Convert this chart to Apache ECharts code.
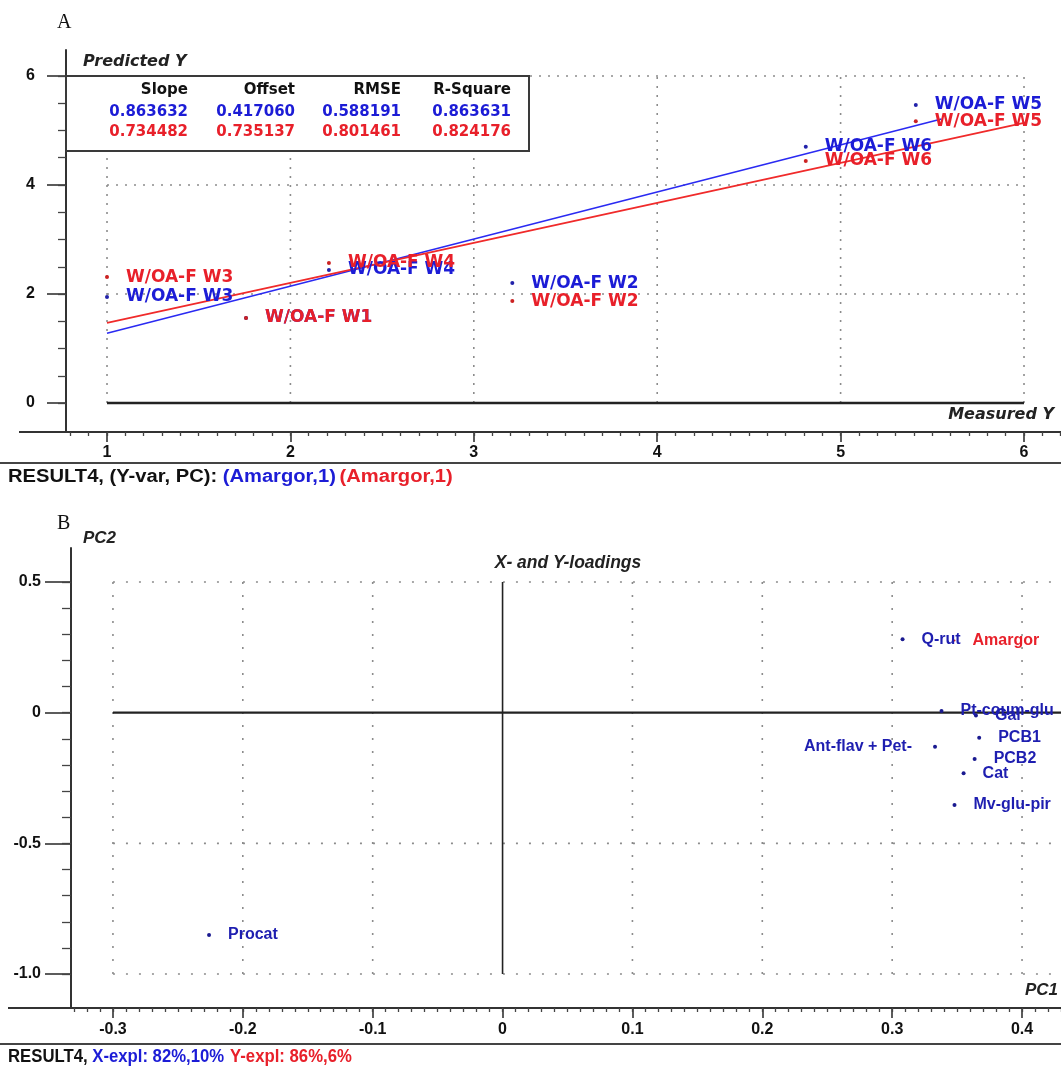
<!DOCTYPE html>
<html><head><meta charset="utf-8">
<script src="https://cdn.jsdelivr.net/npm/echarts@6/dist/echarts.min.js"></script>
<style>html,body{margin:0;padding:0;background:#fff}#c{width:1061px;height:1068px}</style>
</head><body><div id="c"></div><script>
// ---------- Panel A data ----------
const samplesA = ['W/OA-F W3','W/OA-F W1','W/OA-F W4','W/OA-F W2','W/OA-F W6','W/OA-F W5'];
const measuredA = [1.0, 1.758, 2.21, 3.21, 4.81, 5.41];
const predictedBlueA = [1.945, 1.56, 2.44, 2.20, 4.70, 5.47];
const predictedRedA = [2.31, 1.56, 2.57, 1.87, 4.44, 5.17];
const regLineBlueA = [[1, 1.28], [5.55, 5.21]];
const regLineRedA = [[1, 1.47], [6, 5.14]];
const statHeaders = ['Slope','Offset','RMSE','R-Square'];
const statsBlue = ['0.863632','0.417060','0.588191','0.863631'];
const statsRed = ['0.734482','0.735137','0.801461','0.824176'];
const xTicksA = [1,2,3,4,5,6];
const yTicksA = [0,2,4,6];
// ---------- Panel B data ----------
const loadNamesB = ['Q-rut','Pt-coum-glu','Gal','PCB1','PCB2','Cat','Mv-glu-pir','Ant-flav + Pet-','Procat'];
const pc1B = [0.308, 0.338, 0.3645, 0.367, 0.3635, 0.355, 0.348, 0.333, -0.226];
const pc2B = [0.281, 0.006, -0.011, -0.096, -0.177, -0.232, -0.353, -0.130, -0.851];
const yLoadNamesB = ['Amargor'];
const yLoadPc1B = [0.348];
const yLoadPc2B = [0.276];
const xTicksB = [-0.3,-0.2,-0.1,0,0.1,0.2,0.3,0.4];
const xTickLabelsB = ['-0.3','-0.2','-0.1','0','0.1','0.2','0.3','0.4'];
const yTicksB = [-1.0,-0.5,0,0.5];
const yTickLabelsB = ['-1.0','-0.5','0','0.5'];

const BLUE = '#1c1cd6', RED = '#e8202a', DBLUE = '#1e1eb0';
const dv = '"DejaVu Sans",sans-serif';
const lib = '"Liberation Sans",Arial,sans-serif';

function range(a, b, step) { const r = []; for (let i = Math.round(a/step); i <= Math.round(b/step); i++) r.push(+(i*step).toFixed(4)); return r; }
function fmt(ticks, labels) { return v => { for (let i = 0; i < ticks.length; i++) if (Math.abs(ticks[i]-v) < 1e-6) return labels ? labels[i] : String(ticks[i]); return ''; }; }

const minorXA = range(0.8, 6.2, 0.1);
const minorYA = range(0, 6, 0.5);
const minorXB = range(-0.33, 0.43, 0.01);
const minorYB = range(-1.0, 0.5, 0.1);

const XA = {min:0.7764, max:6.2017}, YA = {min:-0.532, max:6.477};
const XB = {min:-0.3323, max:0.430}, YB = {min:-1.130, max:0.630};

function seg(xi, yi, p1, p2, ls, z) {
  return {type:'line', xAxisIndex:xi, yAxisIndex:yi, data:[p1,p2], symbol:'none', silent:true,
    lineStyle:ls, z:z||1, animation:false};
}
const series = [];
const dotA = {color:'#8c8c8c', width:1.6, type:[2,7]};
const dotB = {color:'#8c8c8c', width:1.6, type:[2,11]};
// Panel A grid
[2,4,6].forEach(v => series.push(seg(0,0,[1,v],[6,v],dotA)));
xTicksA.forEach(v => series.push(seg(0,0,[v,0],[v,6],dotA)));
series.push(seg(0,0,[1,0],[6,0],{color:'#222',width:2.5,type:'solid'},2));
// Panel B grid
[0.5,-0.5,-1.0].forEach(v => series.push(seg(2,2,[-0.3,v],[XB.max,v],dotB)));
xTicksB.filter(v=>v!==0).forEach(v => series.push(seg(2,2,[v,-1.0],[v,0.5],dotB)));
series.push(seg(2,2,[-0.3,0],[XB.max,0],{color:'#222',width:2.2,type:'solid'},2));
series.push(seg(2,2,[0,0.5],[0,-1.0],{color:'#222',width:1.6,type:'solid'},2));

// regression lines
series.push({type:'line', xAxisIndex:0, yAxisIndex:0, data:regLineBlueA, symbol:'none', lineStyle:{color:'#2a2af2',width:1.6}, z:3, animation:false});
series.push({type:'line', xAxisIndex:0, yAxisIndex:0, data:regLineRedA, symbol:'none', lineStyle:{color:'#f02a2a',width:1.6}, z:3, animation:false});

const labA = c => ({show:true, position:'right', distance:17, color:c, opacity:1, fontFamily:dv, fontWeight:'bold', fontSize:17, formatter:p=>p.data[2]});
series.push({type:'scatter', xAxisIndex:0, yAxisIndex:0, symbol:'circle', symbolSize:4, itemStyle:{color:'#2222aa', opacity:1},
  data: measuredA.map((x,i)=>[x, predictedBlueA[i], samplesA[i]]), label:labA(BLUE), z:4, animation:false});
series.push({type:'scatter', xAxisIndex:0, yAxisIndex:0, symbol:'circle', symbolSize:4, itemStyle:{color:'#cc2222', opacity:1},
  data: measuredA.map((x,i)=>[x, predictedRedA[i], samplesA[i]]), label:labA(RED), z:5, animation:false});

// Panel B loadings
const labB = c => ({show:true, position:'right', distance:17, color:c, opacity:1, fontFamily:lib, fontWeight:'bold', fontSize:16, formatter:p=>p.data.value ? p.data.value[2] : p.data[2]});
series.push({type:'scatter', xAxisIndex:2, yAxisIndex:2, symbol:'circle', symbolSize:2, itemStyle:{color:'#cc2222', opacity:1},
  data: yLoadPc1B.map((x,i)=>[x, yLoadPc2B[i], yLoadNamesB[i]]), label:labB(RED), z:4, animation:false});
series.push({type:'scatter', xAxisIndex:2, yAxisIndex:2, symbol:'circle', symbolSize:4, itemStyle:{color:'#1a1a90', opacity:1},
  data: pc1B.map((x,i)=>{
    const d = {value:[x, pc2B[i], loadNamesB[i]]};
    if (loadNamesB[i] === 'Ant-flav + Pet-') d.label = {position:'left', distance:21};
    return d;
  }), label:labB(DBLUE), z:5, animation:false});

const tickFont = {color:'#111', fontFamily:lib, fontWeight:'bold', fontSize:16};
function mainAxis(grid, mm, ticks, labels, isX, tickLen, margin) {
  return {gridIndex:grid, type:'value', min:mm.min, max:mm.max, position: isX?'bottom':'left',
    axisLine:{show:true, onZero:false, lineStyle:{color:'#333', width:2}},
    axisTick:{show:true, customValues:ticks, length:tickLen, lineStyle:{color:'#333', width:1.6}},
    axisLabel:Object.assign({show:true, customValues:ticks, margin:margin, formatter:fmt(ticks, labels)}, tickFont),
    splitLine:{show:false}, minorTick:{show:false}};
}
function minorAxis(grid, mm, ticks, isX, len) {
  return {gridIndex:grid, type:'value', min:mm.min, max:mm.max, position: isX?'bottom':'left', offset:0,
    axisLine:{show:false, onZero:false}, axisTick:{show:true, customValues:ticks, length:len, lineStyle:{color:'#444', width:1.3}},
    axisLabel:{show:false}, splitLine:{show:false}};
}
const richFont = (size) => 'bold ' + size + 'px ' + lib;

const option = {
  animation:false,
  backgroundColor:'#fff',
  grid:[
    {left:66, top:50, width:995, height:382},
    {left:71, top:548, width:990, height:460}
  ],
  xAxis:[
    mainAxis(0, XA, xTicksA, null, true, 10, 13),
    minorAxis(0, XA, minorXA, true, 4),
    mainAxis(1, XB, xTicksB, xTickLabelsB, true, 10, 14),
    minorAxis(1, XB, minorXB, true, 4)
  ],
  yAxis:[
    mainAxis(0, YA, yTicksA, null, false, 19, 31),
    minorAxis(0, YA, minorYA, false, 8),
    mainAxis(1, YB, yTicksB, yTickLabelsB, false, 26, 30),
    minorAxis(1, YB, minorYB, false, 9)
  ],
  series: series,
  graphic:[
    {type:'text', x:57, y:23, style:{text:'A', font:'20px "Liberation Serif",serif', fill:'#111', textVerticalAlign:'middle'}},
    {type:'text', x:57, y:524, style:{text:'B', font:'20px "Liberation Serif",serif', fill:'#111', textVerticalAlign:'middle'}},
    {type:'text', x:83, y:62, style:{text:'Predicted Y', font:'italic bold 16px "DejaVu Sans",sans-serif', fill:'#222', textVerticalAlign:'middle'}},
    {type:'text', x:1054, y:415, style:{text:'Measured Y', font:'italic bold 16px "DejaVu Sans",sans-serif', fill:'#222', textAlign:'right', textVerticalAlign:'middle'}},
    {type:'line', shape:{x1:19, y1:432, x2:66, y2:432}, style:{stroke:'#333', lineWidth:2}},
    {type:'line', shape:{x1:0, y1:463, x2:1061, y2:463}, style:{stroke:'#444', lineWidth:2}},
    {type:'text', x:8, y:477, scaleX:1.12, style:{
      text:'{k|RESULT4, (Y-var, PC): }{b|(Amargor,1)} {r|(Amargor,1)}', textVerticalAlign:'middle',
      rich:{k:{fill:'#111', font:richFont(18)}, b:{fill:BLUE, font:richFont(18)}, r:{fill:RED, font:richFont(18)}}}},
    {type:'group', z:50, children:[
      {type:'rect', shape:{x:66, y:76, width:463, height:75}, style:{fill:'#fff', stroke:'#3a3a3a', lineWidth:2}, z:50},
      ...statHeaders.map((t,i)=>({type:'text', z:51, x:[188,295,401,511][i], y:90, style:{text:t, font:'bold 15px '+dv, fill:'#111', textAlign:'right', textVerticalAlign:'middle'}})),
      ...statsBlue.map((t,i)=>({type:'text', z:51, x:[188,295,401,511][i], y:112, style:{text:t, font:'bold 15px '+dv, fill:BLUE, textAlign:'right', textVerticalAlign:'middle'}})),
      ...statsRed.map((t,i)=>({type:'text', z:51, x:[188,295,401,511][i], y:132, style:{text:t, font:'bold 15px '+dv, fill:RED, textAlign:'right', textVerticalAlign:'middle'}}))
    ]},
    {type:'text', x:83, y:538, style:{text:'PC2', font:'italic bold 17px '+lib, fill:'#222', textVerticalAlign:'middle'}},
    {type:'text', x:568, y:563, style:{text:'X- and Y-loadings', font:'italic bold 17.5px '+lib, fill:'#222', textAlign:'center', textVerticalAlign:'middle'}},
    {type:'text', x:1058, y:990, style:{text:'PC1', font:'italic bold 17px '+lib, fill:'#222', textAlign:'right', textVerticalAlign:'middle'}},
    {type:'line', shape:{x1:8, y1:1008, x2:71, y2:1008}, style:{stroke:'#333', lineWidth:2}},
    {type:'line', shape:{x1:0, y1:1044, x2:1061, y2:1044}, style:{stroke:'#444', lineWidth:2}},
    {type:'text', x:8, y:1057, scaleX:0.88, style:{
      text:'{k|RESULT4, }{b|X-expl: 82%,10%}  {r|Y-expl: 86%,6%}', textVerticalAlign:'middle',
      rich:{k:{fill:'#111', font:richFont(19)}, b:{fill:BLUE, font:richFont(19)}, r:{fill:RED, font:richFont(19)}}}}
  ]
};
const chart = echarts.init(document.getElementById('c'), null, {renderer:'canvas'});
chart.setOption(option);
</script></body></html>
